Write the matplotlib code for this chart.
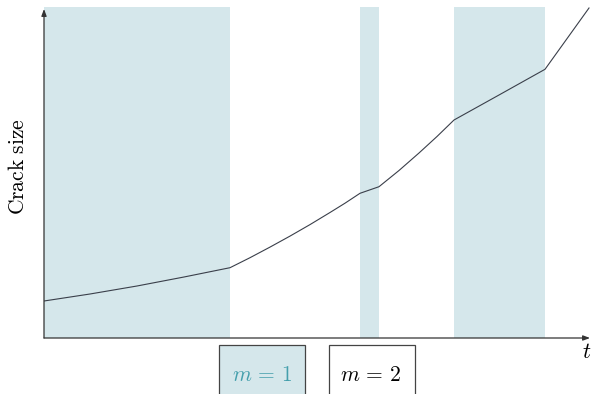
import numpy as np
import matplotlib
matplotlib.use("Agg")
import matplotlib.pyplot as plt
from matplotlib.patches import Rectangle

plt.rcParams['mathtext.fontset'] = 'cm'

# phases where m = 1 (shaded), in t units
shade_start = [0.0, 31.6, 41.0]
shade_end = [18.6, 33.5, 50.1]

# crack growth curve
t_vals = [0.0, 4.6, 9.3, 14.0, 18.6, 20.6, 22.6, 24.6, 26.6, 28.6, 30.1, 31.6, 33.5,
          35.5, 37.5, 39.3, 41.0, 45.5, 50.1, 54.5]
a_vals = [3.7, 4.4, 5.2, 6.1, 7.03, 8.03, 9.09, 10.19, 11.34, 12.55, 13.48, 14.47, 15.13,
          16.75, 18.5, 20.15, 21.8, 24.3, 26.87, 33.0]

shade_col = '#d5e7eb'
teal = '#449fac'

W, H = 593, 394
fig = plt.figure(figsize=(W/100, H/100), dpi=100)
x0, x1 = 44, 590
y0, y1 = 338, 7
ax = fig.add_axes([x0/W, 1 - y0/H, (x1 - x0)/W, (y0 - y1)/H])
xmax = (x1 - x0)/10
ymax = (y0 - y1)/10
ax.set_xlim(0, xmax)
ax.set_ylim(0, ymax)
for s in ax.spines.values():
    s.set_visible(False)
ax.set_xticks([])
ax.set_yticks([])

for s, e in zip(shade_start, shade_end):
    ax.axvspan(s, e, ymin=0, ymax=1, color=shade_col, lw=0, zorder=0)

ax.plot(t_vals, a_vals, color='#3a3f4a', lw=0.8, zorder=3)

# axes arrows
ax.annotate('', xy=(xmax, 0), xytext=(0, 0),
            arrowprops=dict(arrowstyle='-|>,head_length=0.4,head_width=0.15', color='#333333', lw=0.9, shrinkA=0, shrinkB=0),
            annotation_clip=False)
ax.annotate('', xy=(0, ymax - 0.2), xytext=(0, 0),
            arrowprops=dict(arrowstyle='-|>,head_length=0.4,head_width=0.15', color='#333333', lw=0.9, shrinkA=0, shrinkB=0),
            annotation_clip=False)

fig.text(587/W, 1 - 352/H, r'$t$', fontsize=16, ha='center', va='center')
fig.text(18/W, 1 - 167/H, r'$\mathrm{Crack\ size}$', fontsize=15.5, rotation=90, ha='center', va='center')

# legend boxes below the axis
fig.patches.append(Rectangle((219/W, -0.05), 86/W, 1 - 345/H + 0.05, transform=fig.transFigure,
                             facecolor=shade_col, edgecolor='#444444', lw=0.9))
fig.patches.append(Rectangle((329/W, -0.05), 86/W, 1 - 345/H + 0.05, transform=fig.transFigure,
                             facecolor='white', edgecolor='#444444', lw=0.9))
fig.text(262/W, 1 - 375/H, r'$m\,=\,1$', color=teal, fontsize=15.5, ha='center', va='center')
fig.text(371/W, 1 - 375/H, r'$m\,=\,2$', color='black', fontsize=15.5, ha='center', va='center')

fig.savefig('out.png', dpi=100)
